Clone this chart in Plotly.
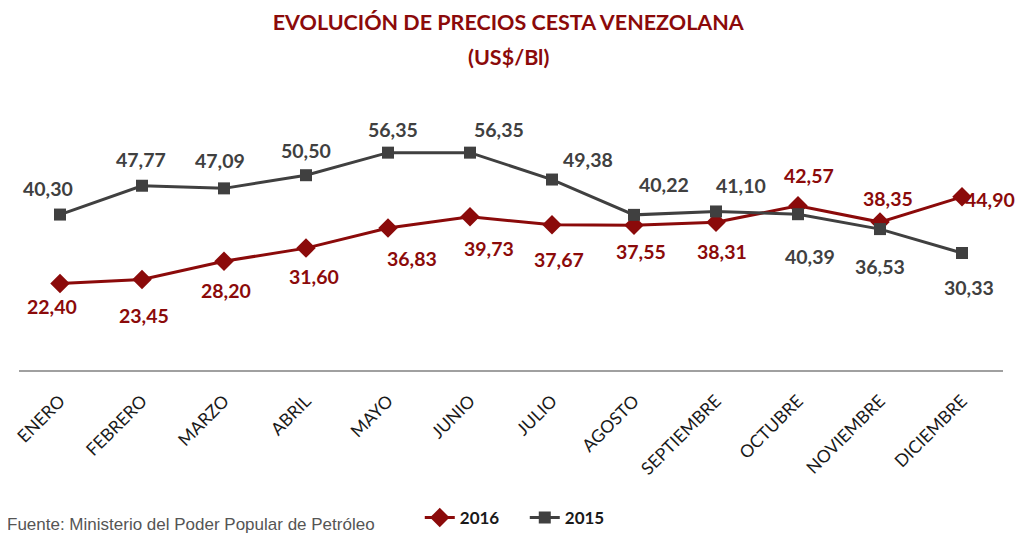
import plotly.graph_objects as go

months = ["ENERO", "FEBRERO", "MARZO", "ABRIL", "MAYO", "JUNIO", "JULIO",
          "AGOSTO", "SEPTIEMBRE", "OCTUBRE", "NOVIEMBRE", "DICIEMBRE"]
v2016 = [22.40, 23.45, 28.20, 31.60, 36.83, 39.73, 37.67, 37.55, 38.31, 42.57, 38.35, 44.90]
v2015 = [40.30, 47.77, 47.09, 50.50, 56.35, 56.35, 49.38, 40.22, 41.10, 40.39, 36.53, 30.33]

# label offsets (pixels) as placed in the original chart
off2016 = [(-8, -23), (2, -36), (2, -29), (8, -28), (24, -31), (19, -32), (7, -35),
           (7, -26), (6, -29), (11, 30), (8, 24), (28, -3)]
off2015 = [(-12, 26), (-1, 26), (-4, 28), (0, 25), (5, 23), (29, 23), (36, 20),
           (30, 30), (25, 26), (12, -42), (0, -37), (7, -34)]

RED = "#8B0A0A"
GRAY = "#404040"

fig = go.Figure()
fig.add_trace(go.Scatter(x=months, y=v2016, name="2016", mode="lines+markers",
                         line=dict(color=RED, width=3),
                         marker=dict(symbol="diamond", size=15, color=RED),
                         cliponaxis=False))
fig.add_trace(go.Scatter(x=months, y=v2015, name="2015", mode="lines+markers",
                         line=dict(color=GRAY, width=3),
                         marker=dict(symbol="square", size=12, color=GRAY),
                         cliponaxis=False))

def fmt(v):
    return f"{v:.2f}".replace(".", ",")

# page is offset by the 8px body margin; layout below is in figure pixels
L, R, T, B = 11, 28, 92, 171
plot_h = 533 - T - B  # 270
axis_y = 533 - B      # 362

anns = []
for m, v, (dx, dy) in zip(months, v2016, off2016):
    anns.append(dict(x=m, y=v, xref="x", yref="y", text=fmt(v), showarrow=False,
                     xshift=dx, yshift=dy,
                     font=dict(family="Lato", size=19.5, color=RED, weight="bold")))
for m, v, (dx, dy) in zip(months, v2015, off2015):
    anns.append(dict(x=m, y=v, xref="x", yref="y", text=fmt(v), showarrow=False,
                     xshift=dx, yshift=dy,
                     font=dict(family="Lato", size=19.5, color=GRAY, weight="bold")))
anns.append(dict(x=0, xref="paper", xanchor="left", xshift=-14,
                 y=(axis_y - 516) / plot_h, yref="paper",
                 yanchor="middle", showarrow=False,
                 text="Fuente: Ministerio del Poder Popular de Petróleo",
                 font=dict(family="Liberation Sans", size=17, color="#555555")))
anns.append(dict(x=0.497, xref="paper", xanchor="center", y=(axis_y - 49) / plot_h,
                 yref="paper", yanchor="middle", showarrow=False, text="(US$/Bl)",
                 font=dict(family="Lato", size=21.5, color=RED, weight="bold")))

fig.update_layout(
    width=1023, height=533,
    margin=dict(l=L, r=R, t=T, b=B, autoexpand=False),
    paper_bgcolor="white", plot_bgcolor="white",
    title=dict(text="EVOLUCIÓN DE PRECIOS CESTA VENEZOLANA",
               x=0.489, xanchor="center", y=1 - 14 / 533, yref="container",
               yanchor="middle",
               font=dict(family="Lato", size=21.5, color=RED, weight="bold")),
    xaxis=dict(type="category", range=[-0.5, 11.5], showgrid=False, automargin=False,
               showline=True, linecolor="#A0A0A0", linewidth=2,
               ticks="", tickangle=-45, ticklabelstandoff=12,
               tickfont=dict(family="Lato", size=17.5, color="#1a1a1a")),
    yaxis=dict(range=[0, 70], visible=False, showgrid=False, zeroline=False),
    legend=dict(orientation="h", x=0.514, xanchor="center",
                y=(axis_y - 510) / plot_h, yanchor="middle",
                entrywidth=60, entrywidthmode="pixels",
                font=dict(family="Lato", size=17, color="#1a1a1a", weight="bold"),
                traceorder="normal"),
    showlegend=True,
    annotations=anns,
)

fig.write_html("out.html")
